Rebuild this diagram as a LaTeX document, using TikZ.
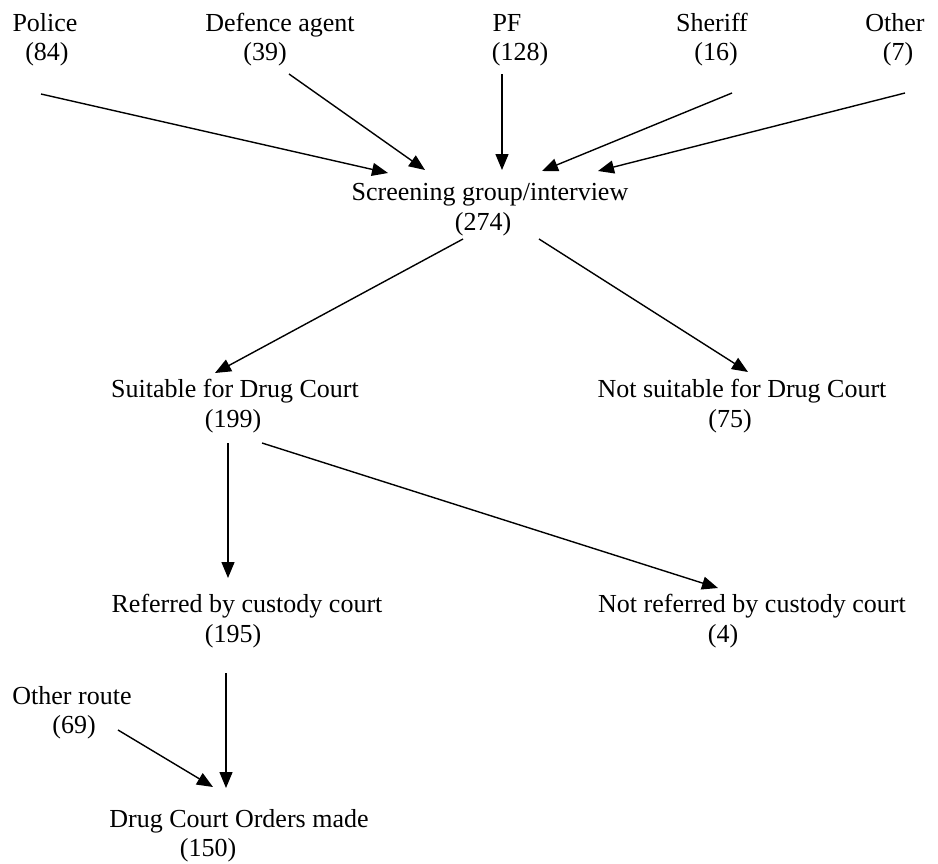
\documentclass[tikz,border=0pt]{standalone}
\usepackage{fontspec}
\setmainfont{Liberation Serif}
\usetikzlibrary{arrows.meta}
\begin{document}
\begin{tikzpicture}[x=1pt,y=-1pt,
  lbl/.style={anchor=base,inner sep=0pt,font=\fontsize{26}{29}\selectfont},
  arr/.style={line width=1.4pt,-{Triangle[length=16pt,width=13pt]}}]
\useasboundingbox (0,0) rectangle (938,863);
% top row
\node[lbl] (police) at (45,31) {Police};
\node[lbl] (policeN) at (47,60) {(84)};
\node[lbl] (defence) at (280,31) {Defence agent};
\node[lbl] (defenceN) at (265,60) {(39)};
\node[lbl] (pf) at (507,31) {PF};
\node[lbl] (pfN) at (520,60) {(128)};
\node[lbl] (sheriff) at (712,31) {Sheriff};
\node[lbl] (sheriffN) at (716,60) {(16)};
\node[lbl] (other) at (895,31) {Other};
\node[lbl] (otherN) at (898,60) {(7)};
% screening
\node[lbl] (scr) at (490,200) {Screening group/interview};
\node[lbl] (scrN) at (483,230) {(274)};
% suitable
\node[lbl] (suit) at (235,397) {Suitable for Drug Court};
\node[lbl] (suitN) at (233,427) {(199)};
\node[lbl] (nsuit) at (742,397) {Not suitable for Drug Court};
\node[lbl] (nsuitN) at (730,427) {(75)};
% referred
\node[lbl] (ref) at (247,612) {Referred by custody court};
\node[lbl] (refN) at (233,642) {(195)};
\node[lbl] (nref) at (752,612) {Not referred by custody court};
\node[lbl] (nrefN) at (723,642) {(4)};
% other route
\node[lbl] (oroute) at (72,704) {Other route};
\node[lbl] (orouteN) at (74,733) {(69)};
% orders
\node[lbl] (dco) at (239,827) {Drug Court Orders made};
\node[lbl] (dcoN) at (208,856) {(150)};
% connector ends
\coordinate (policeOut) at (41,94);
\coordinate (defenceOut) at (289,74);
\coordinate (pfOut) at (502,74);
\coordinate (sheriffOut) at (732,93);
\coordinate (otherOut) at (905,93);
\coordinate (scrIn1) at (388,173);
\coordinate (scrIn2) at (425,170);
\coordinate (scrIn3) at (502,170);
\coordinate (scrIn4) at (542,171);
\coordinate (scrIn5) at (598,171);
\coordinate (scrOutL) at (463,239);
\coordinate (scrOutR) at (539,239);
\coordinate (suitIn) at (215,373);
\coordinate (nsuitIn) at (748,372);
\coordinate (suitOutD) at (228,443);
\coordinate (suitOutR) at (262,443);
\coordinate (refIn) at (228,578);
\coordinate (nrefIn) at (718,588);
\coordinate (refOut) at (226,673);
\coordinate (orouteOut) at (118,730);
\coordinate (dcoIn1) at (213,787);
\coordinate (dcoIn2) at (226,788);
% connectors
\draw[arr] (policeOut) -- (scrIn1);
\draw[arr] (defenceOut) -- (scrIn2);
\draw[arr] (pfOut) -- (scrIn3);
\draw[arr] (sheriffOut) -- (scrIn4);
\draw[arr] (otherOut) -- (scrIn5);
\draw[arr] (scrOutL) -- (suitIn);
\draw[arr] (scrOutR) -- (nsuitIn);
\draw[arr] (suitOutD) -- (refIn);
\draw[arr] (suitOutR) -- (nrefIn);
\draw[arr] (refOut) -- (dcoIn2);
\draw[arr] (orouteOut) -- (dcoIn1);
\end{tikzpicture}
\end{document}
